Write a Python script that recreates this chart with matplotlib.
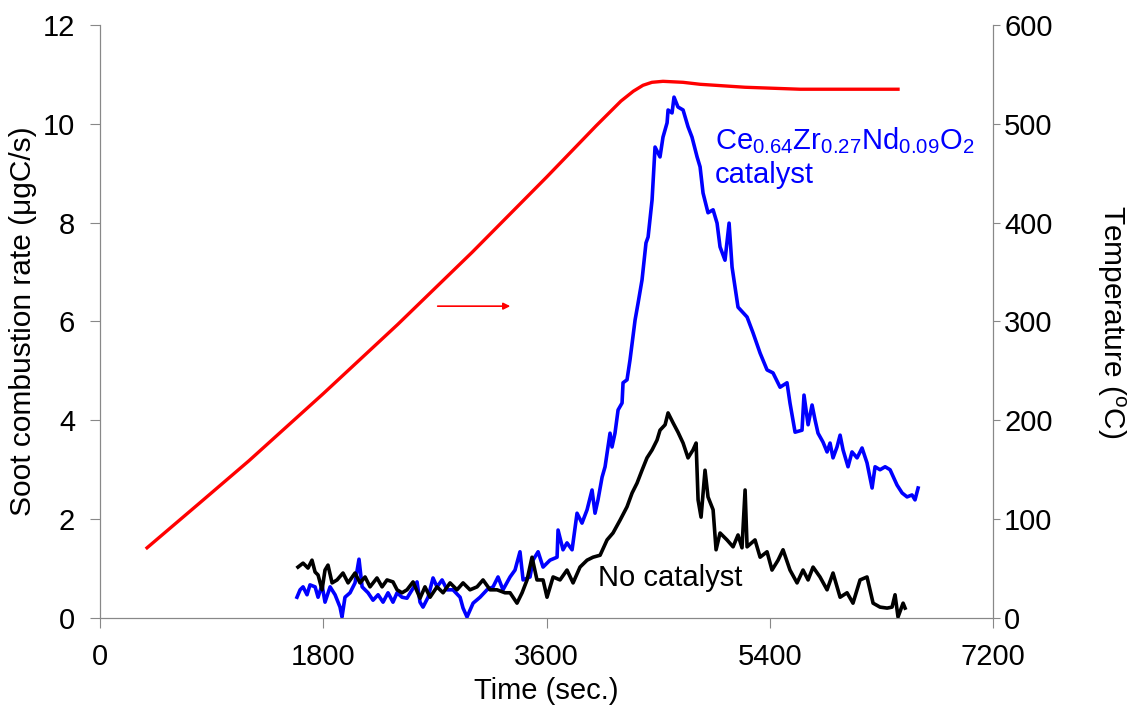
import matplotlib
matplotlib.use('Agg')
import matplotlib.pyplot as plt

plt.rcParams['font.family'] = ['Liberation Sans', 'DejaVu Sans']
plt.rcParams['mathtext.fontset'] = 'custom'
plt.rcParams['mathtext.rm'] = 'Liberation Sans'
plt.rcParams['mathtext.it'] = 'Liberation Sans:italic'

# temperature ramp (right axis)
temp_time = [379, 800, 1200, 1800, 2400, 3000, 3600, 4000, 4200, 4300, 4378, 4450,
             4539, 4700, 4838, 5200, 5644, 6000, 6434]
temp_val = [71, 116, 159, 227, 297, 370, 446, 498, 523, 533, 539, 542,
            543, 542, 540, 537, 535, 535, 535]

# Ce0.64Zr0.27Nd0.09O2 catalyst
cat_time = [1588, 1613, 1637, 1669, 1693, 1734, 1758, 1790, 1814, 1855, 1895, 1935,
            1951, 1975, 2016, 2056, 2088, 2113, 2161, 2201, 2242, 2282, 2322, 2362,
            2395, 2435, 2475, 2516, 2556, 2580, 2604, 2645, 2685, 2717, 2758, 2798,
            2846, 2903, 2927, 2959, 3008, 3064, 3120, 3169, 3209, 3249, 3306, 3346,
            3386, 3411, 3467, 3491, 3532, 3572, 3628, 3685, 3693, 3733, 3765, 3806,
            3846, 3886, 3927, 3967, 3991, 4015, 4048, 4072, 4112, 4128, 4152, 4177,
            4209, 4217, 4249, 4273, 4290, 4314, 4338, 4370, 4402, 4419, 4451, 4475,
            4515, 4539, 4572, 4580, 4612, 4628, 4660, 4701, 4741, 4773, 4814, 4838,
            4862, 4902, 4943, 4975, 4999, 5039, 5072, 5096, 5144, 5217, 5265, 5322,
            5378, 5426, 5483, 5539, 5563, 5604, 5660, 5676, 5709, 5741, 5765, 5789,
            5829, 5862, 5886, 5910, 5942, 5967, 5991, 6031, 6063, 6104, 6144, 6184,
            6225, 6249, 6289, 6330, 6370, 6426, 6467, 6507, 6547, 6571, 6596]
cat_rate = [0.42, 0.57, 0.63, 0.47, 0.67, 0.63, 0.42, 0.67, 0.32, 0.63, 0.47, 0.22,
            0.02, 0.42, 0.51, 0.71, 1.19, 0.63, 0.51, 0.36, 0.47, 0.32, 0.51, 0.32,
            0.51, 0.42, 0.40, 0.57, 0.73, 0.32, 0.22, 0.42, 0.81, 0.63, 0.77, 0.57,
            0.57, 0.42, 0.20, 0.02, 0.30, 0.42, 0.57, 0.63, 0.83, 0.57, 0.83, 0.97,
            1.34, 0.77, 0.83, 1.17, 1.34, 1.03, 1.17, 1.23, 1.78, 1.38, 1.52, 1.38,
            2.12, 1.92, 2.19, 2.59, 2.12, 2.39, 2.85, 3.06, 3.74, 3.46, 3.74, 4.21,
            4.35, 4.76, 4.82, 5.22, 5.56, 6.03, 6.37, 6.84, 7.59, 7.71, 8.46, 9.53,
            9.33, 9.73, 10.02, 10.28, 10.22, 10.54, 10.34, 10.28, 9.94, 9.73, 9.33, 9.13,
            8.60, 8.20, 8.26, 7.99, 7.51, 7.24, 7.99, 7.10, 6.29, 6.09, 5.77, 5.36,
            5.02, 4.96, 4.67, 4.76, 4.35, 3.76, 3.80, 4.51, 3.91, 4.31, 4.01, 3.74,
            3.56, 3.36, 3.54, 3.24, 3.46, 3.70, 3.40, 3.06, 3.36, 3.24, 3.44, 3.14,
            2.63, 3.06, 3.00, 3.06, 3.00, 2.69, 2.53, 2.45, 2.49, 2.39, 2.63]

# no catalyst
nocat_time = [1596, 1637, 1677, 1709, 1734, 1758, 1790, 1814, 1838, 1871, 1911, 1959,
              2000, 2056, 2096, 2137, 2177, 2233, 2274, 2314, 2362, 2395, 2435, 2475,
              2524, 2580, 2620, 2661, 2717, 2766, 2822, 2878, 2927, 2983, 3040, 3088,
              3145, 3201, 3265, 3306, 3362, 3403, 3443, 3483, 3523, 3572, 3604, 3653,
              3709, 3765, 3814, 3870, 3927, 3975, 4032, 4088, 4136, 4193, 4249, 4290,
              4330, 4370, 4410, 4451, 4491, 4515, 4556, 4580, 4620, 4660, 4701, 4741,
              4781, 4806, 4822, 4846, 4878, 4902, 4943, 4967, 4999, 5055, 5104, 5144,
              5176, 5201, 5217, 5281, 5322, 5378, 5418, 5467, 5507, 5563, 5620, 5668,
              5709, 5749, 5805, 5862, 5910, 5967, 6023, 6071, 6128, 6184, 6233, 6289,
              6346, 6386, 6410, 6434, 6475, 6491]
nocat_rate = [1.03, 1.11, 1.01, 1.17, 0.93, 0.87, 0.57, 0.97, 1.07, 0.71, 0.77, 0.91,
              0.71, 0.91, 0.71, 0.83, 0.63, 0.81, 0.63, 0.77, 0.73, 0.57, 0.51, 0.57,
              0.73, 0.40, 0.63, 0.42, 0.63, 0.51, 0.71, 0.57, 0.71, 0.57, 0.63, 0.77,
              0.57, 0.57, 0.51, 0.51, 0.30, 0.51, 0.77, 1.23, 0.77, 0.77, 0.42, 0.83,
              0.77, 0.97, 0.71, 1.03, 1.17, 1.23, 1.27, 1.58, 1.72, 1.98, 2.25, 2.53,
              2.73, 2.99, 3.24, 3.40, 3.60, 3.80, 3.91, 4.15, 3.95, 3.76, 3.54, 3.24,
              3.40, 3.54, 2.39, 2.04, 2.99, 2.45, 2.19, 1.38, 1.72, 1.58, 1.44, 1.68,
              1.42, 2.59, 1.44, 1.58, 1.23, 1.34, 0.97, 1.17, 1.38, 0.97, 0.71, 0.97,
              0.77, 1.03, 0.83, 0.57, 0.91, 0.42, 0.51, 0.30, 0.77, 0.83, 0.30, 0.22,
              0.20, 0.22, 0.47, 0.02, 0.30, 0.20]

x_ticks = [0, 1800, 3600, 5400, 7200]

fig = plt.figure(figsize=(11.38, 7.18), dpi=100)
ax = fig.add_axes([0.0879, 0.1393, 0.7847, 0.8259])
ax2 = ax.twinx()

ax.plot(cat_time, cat_rate, color='#0000ff', lw=2.6, zorder=3)
ax.plot(nocat_time, nocat_rate, color='black', lw=2.6, zorder=4)
ax2.plot(temp_time, temp_val, color='#ff0000', lw=2.4)

ax.set_xlim(0, 7200)
ax.set_ylim(0, 12)
ax2.set_ylim(0, 600)
ax.set_xticks(x_ticks)
ax.set_yticks(range(0, 13, 2))
ax2.set_yticks(range(0, 601, 100))

for a in (ax, ax2):
    a.spines['top'].set_visible(False)
    for s in ('left', 'right', 'bottom'):
        a.spines[s].set_color('#888888')
ax.tick_params(labelsize=21, color='#888888', length=7, pad=11, direction='out')
ax2.tick_params(labelsize=21, color='#888888', length=5, pad=3, direction='out')

ax.set_xlabel('Time (sec.)', fontsize=21, labelpad=4)
ax.set_ylabel('Soot combustion rate (\u03bcgC/s)', fontsize=21.5, labelpad=4)
ax2.set_ylabel(r'Temperature ($^{\mathregular{o}}$C)', fontsize=21.5, rotation=-90, labelpad=54)

ax.text(4959, 9.67, r'Ce$_{0.64}$Zr$_{0.27}$Nd$_{0.09}$O$_{2}$', color='#0000ff', fontsize=21, va='center')
ax.text(4959, 8.96, 'catalyst', color='#0000ff', fontsize=21, va='center')
ax.text(4015, 0.80, 'No catalyst', color='black', fontsize=21, va='center')

ax.annotate('', xy=(3330, 6.31), xytext=(2700, 6.31),
            arrowprops=dict(arrowstyle='-|>', color='#ff0000', lw=1.2, mutation_scale=10))

fig.savefig('out.png', dpi=100)
